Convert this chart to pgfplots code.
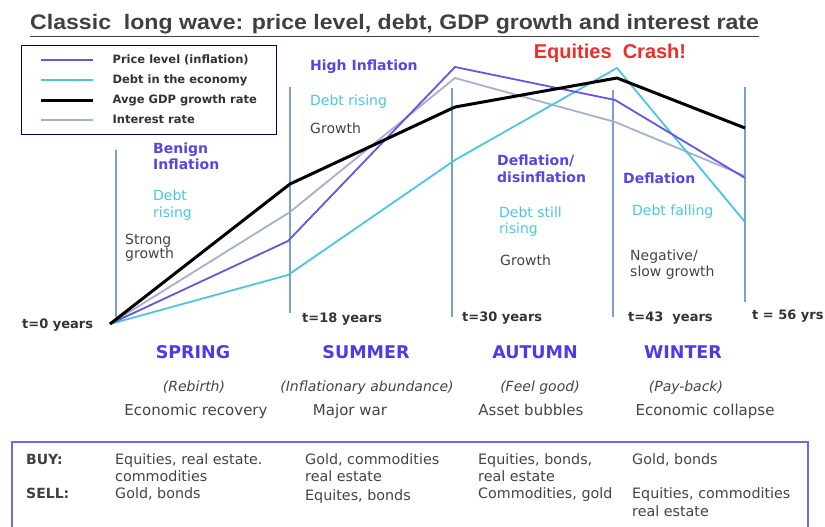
\documentclass[border=0pt]{standalone}
\usepackage{pgfplots}
\pgfplotsset{compat=1.18}
\usepackage{fontspec}
\setmainfont{DejaVu Sans}
\newfontfamily\lib{Liberation Sans}
\newfontfamily\libw[FakeStretch=1.1]{Liberation Sans}
\definecolor{cPrice}{HTML}{6655E0}
\definecolor{cDebt}{HTML}{4CC6E0}
\definecolor{cInt}{HTML}{A2B2CC}
\definecolor{cVert}{HTML}{7C9ED2}
\definecolor{cSeason}{HTML}{4A3CEB}
\definecolor{cAnn}{HTML}{5A44E4}
\definecolor{cCrash}{HTML}{EE2E2A}
\definecolor{cBox}{HTML}{7468E6}
\definecolor{cTxt}{HTML}{444444}
\newcommand{\fs}[1]{\fontsize{#1bp}{#1bp}\selectfont}
\begin{document}
\begin{tikzpicture}
\fill[white] (0,0) rectangle (825bp,527bp);
\begin{axis}[at={(0,0)}, anchor=south west, scale only axis,
  width=825bp, height=527bp, xmin=0, xmax=825, ymin=0, ymax=527,
  y dir=reverse, hide axis, clip=false,
  legend style={at={(axis cs:21,45)}, anchor=north west, draw=black!65!blue,
    line width=1.2bp, fill=white, font=\fs{11.5}\bfseries\color{black!80},
    inner xsep=18bp, inner ysep=7bp, row sep=6bp, cells={anchor=west},
    /tikz/every odd column/.append style={column sep=16bp}},
  legend image code/.code={\draw[#1] (0bp,0bp) -- (52bp,0bp);},
  legend cell align=left,
]
\addlegendimage{cPrice, line width=2bp}
\addlegendentry{Price level (inflation)}
\addlegendimage{cDebt, line width=2bp}
\addlegendentry{Debt in the economy}
\addlegendimage{black, line width=3bp}
\addlegendentry{Avge GDP growth rate}
\addlegendimage{cInt, line width=2bp}
\addlegendentry{Interest rate}
% vertical phase lines
\addplot[cVert, line width=1.7bp, forget plot] coordinates {(116,150) (116,317)};
\addplot[cVert, line width=1.7bp, forget plot] coordinates {(290,87) (290,313)};
\addplot[cVert, line width=1.7bp, forget plot] coordinates {(452,88) (452,317)};
\addplot[cVert, line width=1.7bp, forget plot] coordinates {(613,90) (613,317)};
\addplot[cVert, line width=1.7bp, forget plot] coordinates {(745,87) (745,302)};
% series
\addplot[cInt, line width=1.8bp, forget plot] coordinates {(110,324) (290,212) (455,78) (615,122) (745,176)};
\addplot[cDebt, line width=1.8bp, forget plot] coordinates {(110,324) (288,275) (455,160) (617,68) (745,222)};
\addplot[cPrice, line width=1.8bp, forget plot] coordinates {(110,324) (288,241) (455,67) (615,100) (745,178)};
\addplot[black, line width=3bp, forget plot] coordinates {(110,324) (290,184) (455,107) (617,78) (745,128)};

% title
\node[anchor=base west, inner sep=0, font=\libw\fs{21}\bfseries, text=black!75] at (axis cs:30,30) {\underline{Classic\ \ long wave: price level, debt, GDP growth and interest rate}};
\node[anchor=center, inner sep=0, font=\lib\fs{20}\bfseries, text=cCrash] at (axis cs:610,53) {Equities\ \ Crash!};

% annotations
\tikzset{ab/.style={anchor=base west, inner sep=0, font=\fs{14}\bfseries, text=cAnn},
         ac/.style={anchor=base west, inner sep=0, font=\fs{14}, text=cDebt},
         ag/.style={anchor=base west, inner sep=0, font=\fs{14}, text=cTxt},
         tl/.style={anchor=base west, inner sep=0, font=\fs{13}\bfseries, text=black!80}}
\node[ab] at (axis cs:310,71) {High Inflation};
\node[ac] at (axis cs:310,105) {Debt rising};
\node[ag] at (axis cs:310,133) {Growth};
\node[ab] at (axis cs:153,153) {Benign};
\node[ab] at (axis cs:153,169) {Inflation};
\node[ac] at (axis cs:153,200) {Debt};
\node[ac] at (axis cs:153,217) {rising};
\node[ag] at (axis cs:125,244) {Strong};
\node[ag] at (axis cs:125,258) {growth};
\node[ab] at (axis cs:497,165) {Deflation/};
\node[ab] at (axis cs:497,182) {disinflation};
\node[ac] at (axis cs:499,217) {Debt still};
\node[ac] at (axis cs:499,233) {rising};
\node[ag] at (axis cs:500,265) {Growth};
\node[ab] at (axis cs:623,183) {Deflation};
\node[ac] at (axis cs:632,215) {Debt falling};
\node[ag] at (axis cs:630,260) {Negative/};
\node[ag] at (axis cs:630,276) {slow growth};
% time labels
\node[tl] at (axis cs:22,328) {t=0 years};
\node[tl] at (axis cs:302,322) {t=18 years};
\node[tl] at (axis cs:462,321) {t=30 years};
\node[tl] at (axis cs:628,321) {t=43\ \ years};
\node[tl] at (axis cs:752,319) {t = 56 yrs};
% seasons
\tikzset{ss/.style={anchor=base, inner sep=0, font=\fs{17.5}\bfseries, text=cSeason},
         si/.style={anchor=base, inner sep=0, font=\fs{14}\itshape, text=cTxt},
         sr/.style={anchor=base, inner sep=0, font=\fs{15}, text=cTxt}}
\node[ss] at (axis cs:193,358) {SPRING};
\node[ss] at (axis cs:366,358) {SUMMER};
\node[ss] at (axis cs:535,358) {AUTUMN};
\node[ss] at (axis cs:683,358) {WINTER};
\node[si] at (axis cs:194,391) {(Rebirth)};
\node[si] at (axis cs:367,391) {(Inflationary abundance)};
\node[si] at (axis cs:540,391) {(Feel good)};
\node[si] at (axis cs:686,391) {(Pay-back)};
\node[sr] at (axis cs:196,415) {Economic recovery};
\node[sr] at (axis cs:350,415) {Major war};
\node[sr] at (axis cs:531,415) {Asset bubbles};
\node[sr] at (axis cs:705,415) {Economic collapse};
% bottom box
\draw[cBox, line width=2bp] (axis cs:12,535) -- (axis cs:12,442) -- (axis cs:808,442) -- (axis cs:808,535);
\tikzset{bb/.style={anchor=base west, inner sep=0, font=\fs{14.3}, text=cTxt},
         bh/.style={anchor=base west, inner sep=0, font=\fs{14}\bfseries, text=black!75}}
\node[bh] at (axis cs:26,464) {BUY:};
\node[bh] at (axis cs:26,498) {SELL:};
\node[bb] at (axis cs:115,464) {Equities, real estate.};
\node[bb] at (axis cs:115,481) {commodities};
\node[bb] at (axis cs:115,498) {Gold, bonds};
\node[bb] at (axis cs:305,464) {Gold, commodities};
\node[bb] at (axis cs:305,481) {real estate};
\node[bb] at (axis cs:305,500) {Equites, bonds};
\node[bb] at (axis cs:478,464) {Equities, bonds,};
\node[bb] at (axis cs:478,481) {real estate};
\node[bb] at (axis cs:478,498) {Commodities, gold};
\node[bb] at (axis cs:632,464) {Gold, bonds};
\node[bb] at (axis cs:632,498) {Equities, commodities};
\node[bb] at (axis cs:632,516) {real estate};
\end{axis}
\pgfresetboundingbox
\path (0,0) rectangle (825bp,527bp);
\end{tikzpicture}
\end{document}
